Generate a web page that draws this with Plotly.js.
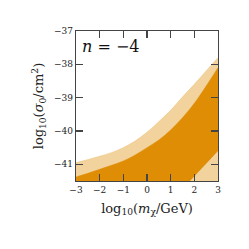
<!DOCTYPE html>
<html>
<head>
<meta charset="utf-8">
<script src="https://cdn.plot.ly/plotly-3.0.1.min.js"></script>
<style>html,body{margin:0;padding:0;background:#fff;}#chart{width:249px;height:249px;}</style>
</head>
<body>
<div id="chart"></div>
<script>
// log10(m_chi / GeV) grid
const logMass = [-3, -2.5, -2, -1.5, -1, -0.5, 0, 0.5, 1, 1.5, 2, 2.5, 3];
// upper edge of outer (light) region, log10(sigma0/cm^2)
const outerUpper = [-40.95, -40.86, -40.76, -40.65, -40.5, -40.3, -40.04, -39.72, -39.38, -38.98, -38.6, -38.2, -37.8];
// upper edge of inner (dark) region
const innerUpper = [-41.38, -41.27, -41.15, -41.03, -40.9, -40.72, -40.5, -40.27, -39.97, -39.6, -39.17, -38.65, -38.1];
// lower edge of inner (dark) region (lower right corner)
const innerLowerX = [1.16, 1.82, 3, 3];
const innerLowerY = [-42.0, -41.5, -40.6, -42.0];
const floorY = -42.0;

const lightColor = '#F2D39E';
const darkColor = '#DF8D04';

const floor = logMass.map(() => floorY);

const traces = [
  {x: logMass, y: floor, type: 'scatter', mode: 'lines', line: {width: 0, color: 'rgba(0,0,0,0)'}, hoverinfo: 'skip'},
  {x: logMass, y: outerUpper, type: 'scatter', mode: 'lines', fill: 'tonexty',
   fillcolor: lightColor, line: {color: '#EDC27A', width: 0.6, shape: 'spline', smoothing: 1}, hoverinfo: 'skip'},
  {x: logMass, y: floor, type: 'scatter', mode: 'lines', line: {width: 0, color: 'rgba(0,0,0,0)'}, hoverinfo: 'skip'},
  {x: logMass, y: innerUpper, type: 'scatter', mode: 'lines', fill: 'tonexty',
   fillcolor: darkColor, line: {color: darkColor, width: 0.5, shape: 'spline', smoothing: 1}, hoverinfo: 'skip'},
  {x: innerLowerX, y: innerLowerY, type: 'scatter', mode: 'lines', fill: 'toself',
   fillcolor: lightColor, line: {color: lightColor, width: 0}, hoverinfo: 'skip'}
];

const serif = 'DejaVu Serif';
const axisCommon = {
  showgrid: false, zeroline: false, showline: true, mirror: 'ticks',
  linecolor: '#444', linewidth: 1.2, ticks: 'inside', ticklen: 7, tickwidth: 1.2,
  tickcolor: '#444', tickfont: {family: serif, size: 9, color: '#222'}
};

const layout = {
  width: 249, height: 249,
  margin: {l: 76, r: 31, t: 31, b: 68},
  paper_bgcolor: '#fff', plot_bgcolor: '#fff',
  showlegend: false,
  font: {family: serif},
  xaxis: Object.assign({}, axisCommon, {
    range: [-3, 3], dtick: 1, tick0: 0,
    title: {text: 'log<sub>10</sub>(<i>m</i><sub>χ</sub>/GeV)', font: {family: serif, size: 13, color: '#222'}, standoff: 9}
  }),
  yaxis: Object.assign({}, axisCommon, {
    range: [-41.5, -37], dtick: 1, tick0: -41,
    title: {text: 'log<sub>10</sub>(<i>σ</i><sub>0</sub>/cm<sup>2</sup>)', font: {family: serif, size: 13, color: '#222'}, standoff: 7}
  }),
  annotations: [{
    xref: 'paper', yref: 'paper', x: 0.03, y: 0.975, xanchor: 'left', yanchor: 'top',
    text: '<i>n</i> = −4', showarrow: false, font: {family: serif, size: 16, color: '#111'}
  }]
};

Plotly.newPlot('chart', traces, layout, {staticPlot: true, displayModeBar: false});
</script>
</body>
</html>
